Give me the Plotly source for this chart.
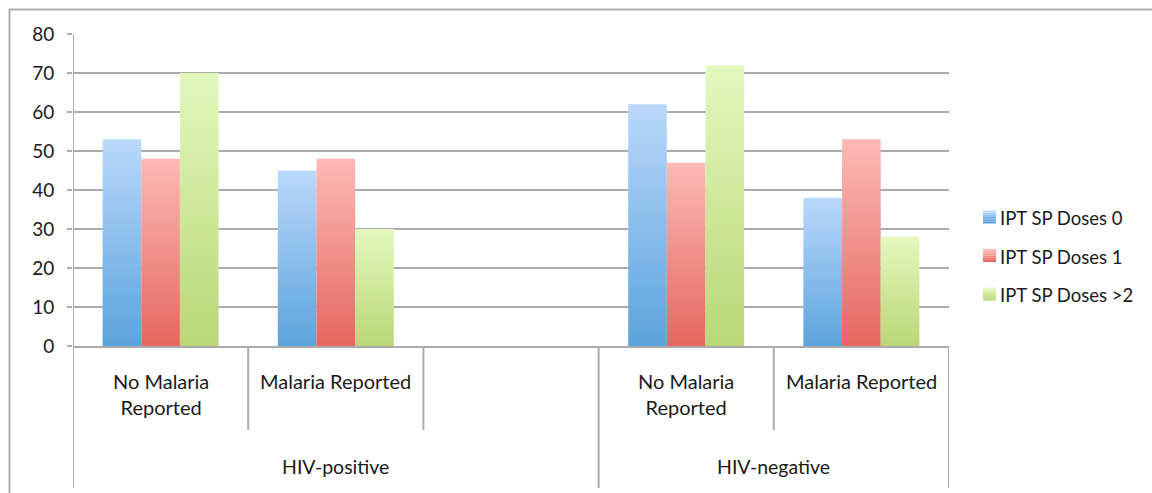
import plotly.graph_objects as go

# Category slots along the x axis (the empty slot keeps the gap between HIV groups)
sub_labels = ["No Malaria<br>Reported", "Malaria Reported", "", "No Malaria<br>Reported", "Malaria Reported"]
group_labels = ["HIV-positive", "HIV-negative"]
group_spans = [(0, 2), (3, 4)]          # first and last slot index of each group

series_names = ["IPT SP Doses 0", "IPT SP Doses 1", "IPT SP Doses >2"]
doses_0 = [53, 45, None, 62, 38]
doses_1 = [48, 48, None, 47, 53]
doses_2 = [70, 30, None, 72, 28]
series_values = [doses_0, doses_1, doses_2]

y_ticks = [0, 10, 20, 30, 40, 50, 60, 70, 80]

# (bottom colour, top colour) of each series' vertical gradient
gradients = [("#5ba3dc", "#bad8fb"), ("#e5675e", "#fdb9b6"), ("#b9d777", "#e3f8be")]

FONT = "Lato, 'Open Sans', sans-serif"
TEXT = "#1a1a1a"
GRID = "#ababab"
W, H = 1152, 493
L, R, T, B = 73, 203, 34, 147
PW, PH = W - L - R, H - T - B

def px_x(px):
    return (px - L) / PW

def px_y(py):
    return (H - B - py) / PH

bar_w = 0.2207
fig = go.Figure()

for j, (name, vals) in enumerate(zip(series_names, series_values)):
    bottom, top = gradients[j]
    for i, v in enumerate(vals):
        if v is None:
            continue
        x0 = i + (j - 1.5) * bar_w
        x1 = x0 + bar_w
        fig.add_trace(go.Scatter(
            x=[x0, x0, x1, x1, x0], y=[0, v, v, 0, 0],
            mode="lines", fill="toself",
            line=dict(width=0, color=top),
            fillgradient=dict(type="vertical", colorscale=[[0, bottom], [1, top]]),
            name=name, legendgroup=name, showlegend=False,
            hoverinfo="skip",
        ))

shapes = []
line_style = dict(color=GRID, width=2)

# outer chart border (top and left edges)
shapes.append(dict(type="line", xref="paper", yref="paper",
                   x0=px_x(9), x1=px_x(W + 5), y0=px_y(9.5), y1=px_y(9.5), line=line_style))
shapes.append(dict(type="line", xref="paper", yref="paper",
                   x0=px_x(9.5), x1=px_x(9.5), y0=px_y(9), y1=px_y(H + 5), line=line_style))

# y axis line running down through the category area
shapes.append(dict(type="line", xref="x", yref="paper", x0=-0.5, x1=-0.5,
                   y0=1, y1=px_y(488), line=line_style))

# slot separators: short between sub-categories, long at group boundaries
group_edges = {-0.5} | {g[1] + 0.5 for g in group_spans}
for k in range(1, len(sub_labels) + 1):
    xb = k - 0.5
    yb = px_y(488) if xb in group_edges else px_y(430)
    shapes.append(dict(type="line", xref="x", yref="paper", x0=xb, x1=xb,
                       y0=0, y1=yb, line=line_style))

annotations = []
for i, lab in enumerate(sub_labels):
    if lab:
        annotations.append(dict(x=i, y=px_y(367), xref="x", yref="paper", text=lab,
                                showarrow=False, xanchor="center", yanchor="top",
                                font=dict(family=FONT, size=20, color=TEXT)))
for lab, (a, b) in zip(group_labels, group_spans):
    annotations.append(dict(x=(a + b) / 2, y=px_y(466), xref="x", yref="paper", text=lab,
                            showarrow=False, xanchor="center", yanchor="middle",
                            font=dict(family=FONT, size=19.5, color=TEXT)))

# legend: gradient swatch + label per series
legend_y = [217, 255.5, 294]
for j, name in enumerate(series_names):
    bottom, top = gradients[j]
    cy = legend_y[j]
    steps = 6
    c0 = tuple(int(bottom[k:k + 2], 16) for k in (1, 3, 5))
    c1 = tuple(int(top[k:k + 2], 16) for k in (1, 3, 5))
    for s in range(steps):
        frac = s / (steps - 1)
        col = "rgb(%d,%d,%d)" % tuple(round(a + (b - a) * frac) for a, b in zip(c0, c1))
        y_lo = cy + 6.5 - s * 13 / steps
        shapes.append(dict(type="rect", xref="paper", yref="paper",
                           x0=px_x(983), x1=px_x(996), y0=px_y(y_lo), y1=px_y(y_lo - 13 / steps),
                           line=dict(width=0), fillcolor=col))
    annotations.append(dict(x=px_x(998), y=px_y(cy + 1), xref="paper", yref="paper", text=name,
                            showarrow=False, xanchor="left", yanchor="middle",
                            font=dict(family=FONT, size=18.5, color=TEXT)))

fig.update_layout(
    width=W, height=H,
    margin=dict(l=L, r=R, t=T, b=B, pad=0),
    paper_bgcolor="white", plot_bgcolor="white",
    showlegend=False,
    shapes=shapes, annotations=annotations,
    xaxis=dict(range=[-0.5, len(sub_labels) - 0.5], showgrid=False, zeroline=False,
               showticklabels=False, ticks="", showline=True, linecolor=GRID, linewidth=2,
               fixedrange=True),
    yaxis=dict(range=[0, 80], tickvals=y_ticks, showgrid=True, gridcolor=GRID, gridwidth=2,
               zeroline=False, showline=False, ticks="outside", ticklen=5, tickwidth=2,
               tickcolor=GRID, ticklabelstandoff=9,
               tickfont=dict(family=FONT, size=19, color=TEXT), fixedrange=True),
)

fig.write_html("out.html")
